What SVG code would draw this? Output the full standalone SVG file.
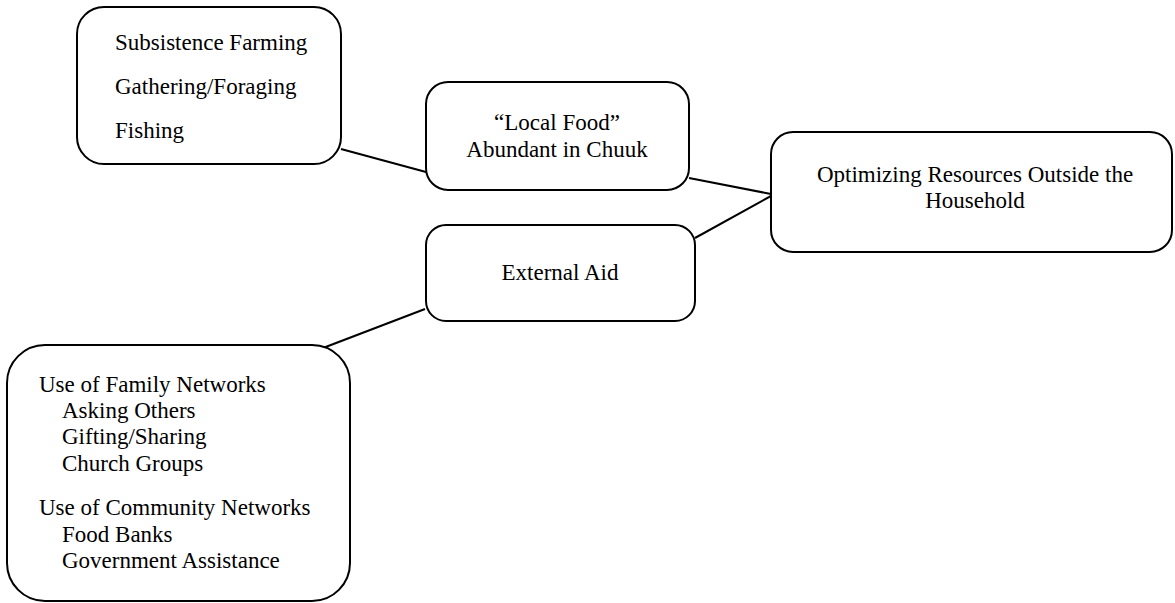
<svg xmlns="http://www.w3.org/2000/svg" width="1175" height="603" viewBox="0 0 1175 603">
<style>
.box{fill:#fff;stroke:#000;stroke-width:2}
.t{font-family:"Liberation Serif","Times New Roman",serif;font-size:23px;fill:#000}
.c{text-anchor:middle}
.ln{stroke:#000;stroke-width:2;fill:none}
</style>
<rect width="1175" height="603" fill="#fff"/>
<g id="connectors">
<line class="ln" x1="341" y1="149" x2="426" y2="172"/>
<line class="ln" x1="689" y1="178" x2="771" y2="194"/>
<line class="ln" x1="695" y1="238" x2="771" y2="196"/>
<line class="ln" x1="323" y1="348" x2="425" y2="309"/>
</g>
<g id="n1">
<rect class="box" x="77" y="7" width="264" height="157" rx="27" ry="27"/>
<text class="t" x="115" y="50">Subsistence Farming</text>
<text class="t" x="115" y="94">Gathering/Foraging</text>
<text class="t" x="115" y="138">Fishing</text>
</g>
<g id="n2">
<rect class="box" x="426" y="82" width="263" height="108" rx="22" ry="22"/>
<text class="t c" x="557" y="130">“Local Food”</text>
<text class="t c" x="557" y="157">Abundant in Chuuk</text>
</g>
<g id="n3">
<rect class="box" x="771" y="132" width="401" height="120" rx="22" ry="22"/>
<text class="t c" x="975" y="182">Optimizing Resources Outside the</text>
<text class="t c" x="975" y="208">Household</text>
</g>
<g id="n4">
<rect class="box" x="426" y="225" width="269" height="96" rx="20" ry="20"/>
<text class="t c" x="560" y="280">External Aid</text>
</g>
<g id="n5">
<rect class="box" x="7" y="345" width="343" height="256" rx="38" ry="38"/>
<text class="t" x="39" y="392">Use of Family Networks</text>
<text class="t" x="62" y="418">Asking Others</text>
<text class="t" x="62" y="444">Gifting/Sharing</text>
<text class="t" x="62" y="471">Church Groups</text>
<text class="t" x="39" y="515">Use of Community Networks</text>
<text class="t" x="62" y="542">Food Banks</text>
<text class="t" x="62" y="568">Government Assistance</text>
</g>
</svg>
